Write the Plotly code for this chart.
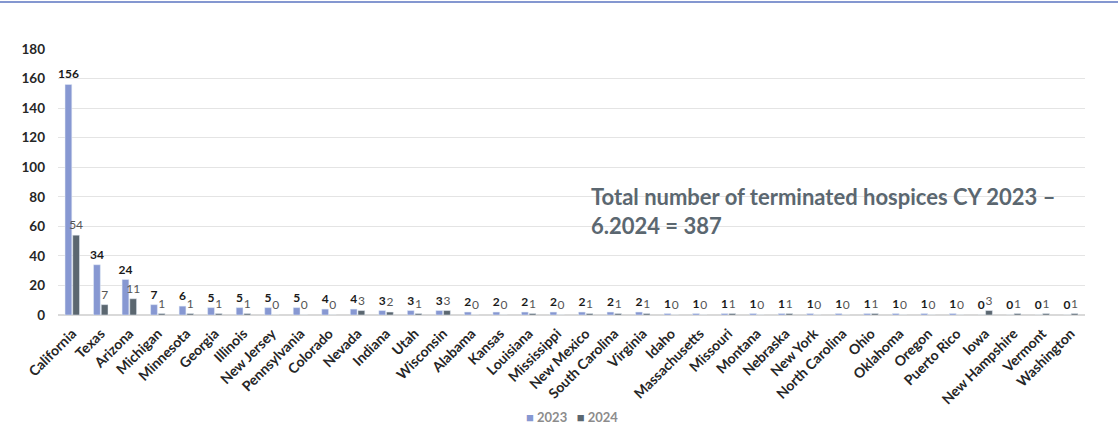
import plotly.graph_objects as go

states = ["California", "Texas", "Arizona", "Michigan", "Minnesota", "Georgia", "Illinois",
          "New Jersey", "Pennsylvania", "Colorado", "Nevada", "Indiana", "Utah", "Wisconsin",
          "Alabama", "Kansas", "Louisiana", "Mississippi", "New Mexico", "South Carolina",
          "Virginia", "Idaho", "Massachusetts", "Missouri", "Montana", "Nebraska", "New York",
          "North Carolina", "Ohio", "Oklahoma", "Oregon", "Puerto Rico", "Iowa",
          "New Hampshire", "Vermont", "Washington"]
count_2023 = [156, 34, 24, 7, 6, 5, 5, 5, 5, 4, 4, 3, 3, 3, 2, 2, 2, 2, 2, 2, 2,
              1, 1, 1, 1, 1, 1, 1, 1, 1, 1, 1, 0, 0, 0, 0]
count_2024 = [54, 7, 11, 1, 1, 1, 1, 0, 0, 0, 3, 2, 1, 3, 0, 0, 1, 0, 1, 1, 1,
              0, 0, 1, 0, 1, 0, 0, 1, 0, 0, 0, 3, 1, 1, 1]
y_ticks = [0, 20, 40, 60, 80, 100, 120, 140, 160, 180]
note = "Total number of terminated hospices CY 2023 –<br>6.2024 = 387"

FONT = "Lato"
C2023 = "#8798D2"
C2024 = "#5B6770"

fig = go.Figure()
fig.add_trace(go.Bar(
    x=states, y=count_2023, name="2023", marker_color=C2023,
    text=count_2023, textposition="outside", textangle=0, constraintext="none",
    cliponaxis=False,
    textfont=dict(family=FONT, size=12, color="#1a1a1a", weight="bold"),
))
fig.add_trace(go.Bar(
    x=states, y=count_2024, name="2024", marker_color=C2024,
    text=count_2024, textposition="outside", textangle=0, constraintext="none",
    cliponaxis=False,
    textfont=dict(family=FONT, size=12, color="#555555"),
))

# legend drawn as a single centred line of text below the axis labels
legend_text = (f"<span style='color:{C2023}'>■</span> 2023   "
               f"<span style='color:{C2024}'>■</span> 2024")

fig.update_layout(
    width=1118, height=430,
    margin=dict(l=58, r=33, t=49, b=115),
    paper_bgcolor="white", plot_bgcolor="white",
    barmode="group", bargap=0.46, bargroupgap=0.12,
    font=dict(family=FONT, color="#262626"),
    showlegend=False,
    xaxis=dict(tickangle=-45, automargin=False, showgrid=False, showline=True,
               linecolor="#d9d9d9", linewidth=1, ticks="", ticklabelstandoff=4,
               tickfont=dict(family=FONT, size=14, color="#262626", weight="bold")),
    yaxis=dict(range=[0, 180], tickvals=y_ticks, showgrid=True, gridcolor="#e4e4e4",
               zeroline=True, zerolinecolor="#d9d9d9", showline=False, ticks="",
               automargin=False, ticklabelstandoff=12,
               tickfont=dict(family=FONT, size=13.5, color="#262626", weight="bold")),
    annotations=[
        dict(text=note, xref="paper", yref="paper", x=0.517, y=0.505,
             xanchor="left", yanchor="top", align="left", showarrow=False,
             font=dict(family=FONT, size=22, color="#5B6770", weight="bold")),
        dict(text=legend_text, xref="paper", yref="paper", x=0.5, y=(315 - 417) / 266,
             xanchor="center", yanchor="middle", showarrow=False,
             font=dict(family=FONT, size=13, color="#8c8c8c", weight="bold")),
    ],
    shapes=[dict(type="line", xref="paper", yref="paper", x0=-58 / 1027, x1=1060 / 1027,
                 y0=1 + 47 / 266, y1=1 + 47 / 266, line=dict(color="#8497D0", width=2))],
)

fig.write_html("out.html")
